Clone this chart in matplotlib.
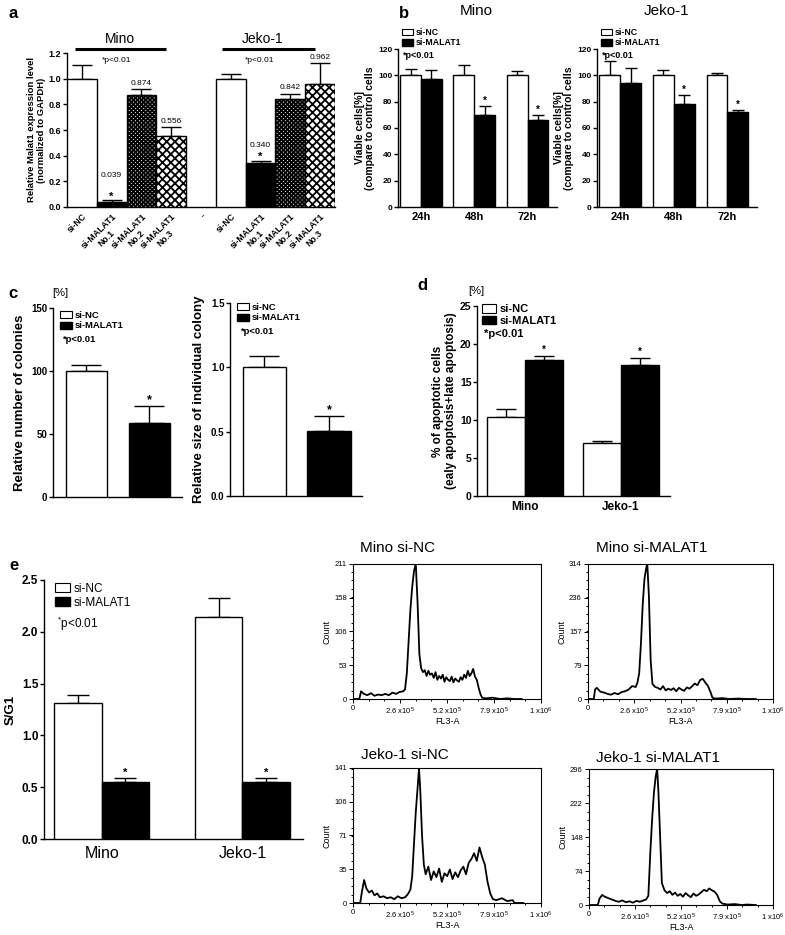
import numpy as np
import matplotlib
matplotlib.use('Agg')
import matplotlib.pyplot as plt
from matplotlib.patches import Patch
from matplotlib.ticker import AutoMinorLocator

plt.rcParams['font.family'] = ['Liberation Sans', 'DejaVu Sans']
plt.rcParams['hatch.linewidth'] = 1.3
plt.rcParams['mathtext.fontset'] = 'custom'
plt.rcParams['mathtext.rm'] = 'Liberation Sans'
plt.rcParams['mathtext.it'] = 'Liberation Sans:italic'
plt.rcParams['mathtext.bf'] = 'Liberation Sans:bold'

# ---- data ----
# a: Malat1 expression
a_labels = ['si-NC', 'si-MALAT1\nNo.1', 'si-MALAT1\nNo.2', 'si-MALAT1\nNo.3']
a_mino = [1.0, 0.039, 0.874, 0.556]
a_mino_err = [0.11, 0.012, 0.043, 0.064]
a_jeko = [1.0, 0.340, 0.842, 0.962]
a_jeko_err = [0.04, 0.022, 0.04, 0.158]
a_mino_star = [False, True, False, False]
a_jeko_star = [False, True, False, False]

# b: viability
b_times = ['24h', '48h', '72h']
b_mino_nc = [100, 100, 100]
b_mino_nc_err = [5, 8, 3]
b_mino_si = [97.5, 70, 66]
b_mino_si_err = [6.5, 7, 4]
b_jeko_nc = [100, 100, 100]
b_jeko_nc_err = [11, 4, 2]
b_jeko_si = [94.5, 78, 72.5]
b_jeko_si_err = [11, 7, 0.8]

# c: colonies
c_number = [100, 58.5]
c_number_err = [4.5, 14]
c_size = [1.0, 0.505]
c_size_err = [0.09, 0.12]

# d: apoptosis
cells = ['Mino', 'Jeko-1']
d_nc = [10.4, 7.0]
d_nc_err = [1.0, 0.3]
d_si = [17.9, 17.3]
d_si_err = [0.5, 0.9]

# e: S/G1
e_nc = [1.31, 2.14]
e_nc_err = [0.08, 0.19]
e_si = [0.555, 0.55]
e_si_err = [0.035, 0.04]

# flow histograms (FL3-A in 1e5 units, counts)
mnc_x = [0.0, 0.35, 0.45, 0.6, 0.8, 1.0, 1.2, 1.4, 1.6, 1.8, 2.0, 2.2, 2.4, 2.6, 2.8, 2.9, 3.0, 3.1, 3.2, 3.3,
         3.4, 3.5, 3.6, 3.7, 3.8, 3.9, 4.0, 4.1, 4.2, 4.3, 4.4, 4.5, 4.6, 4.7, 4.8, 4.9, 5.0, 5.1, 5.2, 5.3,
         5.4, 5.5, 5.6, 5.7, 5.8, 5.9, 6.0, 6.1, 6.2, 6.3, 6.4, 6.5, 6.6, 6.7, 6.8, 6.9, 7.0, 7.1, 7.2,
         7.4, 7.8, 8.2, 8.6, 9.0, 9.4]
mnc_y = [0, 0, 12, 8, 6, 9, 5, 7, 6, 8, 6, 10, 8, 11, 12, 15, 40, 90, 140, 175,
         200, 211, 150, 70, 48, 42, 45, 36, 44, 38, 40, 33, 42, 30, 36, 32, 38, 27, 34, 30,
         28, 35, 26, 32, 29, 27, 34, 30, 38, 33, 44, 36, 40, 47, 35, 30, 18, 8, 2,
         1, 2, 0, 1, 0, 0]
msi_x = [0.0, 0.33, 0.4, 0.5, 0.7, 0.9, 1.1, 1.3, 1.5, 1.7, 1.9, 2.1, 2.3, 2.5, 2.7, 2.8, 2.9, 3.0, 3.1, 3.2,
         3.3, 3.36, 3.45, 3.55, 3.65, 3.8, 3.95, 4.1, 4.25, 4.4, 4.55, 4.7, 4.85, 5.0, 5.15, 5.3, 5.45, 5.6,
         5.75, 5.9, 6.05, 6.2, 6.35, 6.5, 6.65, 6.8, 6.95, 7.05, 7.2, 7.6, 8.0, 8.5, 9.0, 9.5]
msi_y = [0, 0, 22, 26, 17, 15, 12, 10, 14, 11, 16, 18, 22, 30, 28, 38, 60, 130, 220, 280,
         305, 314, 240, 90, 35, 28, 26, 22, 30, 20, 24, 21, 25, 18, 26, 22, 19, 27,
         24, 30, 36, 32, 44, 47, 38, 30, 15, 3, 1, 2, 0, 1, 0, 0]
jnc_x = [0.0, 0.4, 0.5, 0.62, 0.75, 0.9, 1.05, 1.2, 1.35, 1.5, 1.7, 1.9, 2.1, 2.3, 2.5, 2.7, 2.9, 3.05, 3.2, 3.3,
         3.4, 3.5, 3.6, 3.68, 3.75, 3.85, 3.95, 4.05, 4.2, 4.35, 4.5, 4.65, 4.8, 4.95, 5.1, 5.25, 5.4, 5.55,
         5.7, 5.85, 6.0, 6.15, 6.3, 6.45, 6.6, 6.75, 6.9, 7.05, 7.2, 7.35, 7.5, 7.65, 7.8, 8.0, 8.3, 8.6,
         8.9, 9.0, 9.5]
jnc_y = [0, 0, 12, 24, 15, 11, 13, 8, 10, 6, 7, 5, 6, 4, 7, 5, 6, 9, 14, 28,
         62, 95, 120, 141, 118, 70, 40, 30, 38, 24, 33, 27, 36, 22, 31, 28, 35, 25,
         32, 27, 34, 38, 30, 42, 46, 52, 44, 58, 48, 40, 22, 10, 4, 3, 5, 2,
         3, 0, 0]
jsi_x = [0.0, 0.5, 0.6, 0.75, 0.9, 1.1, 1.3, 1.5, 1.7, 1.9, 2.1, 2.3, 2.5, 2.7, 2.9, 3.1, 3.25, 3.38, 3.5, 3.6,
         3.7, 3.8, 3.88, 3.95, 4.05, 4.15, 4.3, 4.45, 4.6, 4.75, 4.9, 5.05, 5.2, 5.35, 5.5, 5.65, 5.8, 5.95,
         6.1, 6.25, 6.4, 6.55, 6.7, 6.85, 7.0, 7.15, 7.3, 7.45, 7.6, 7.9, 8.3, 8.7, 9.0, 9.5]
jsi_y = [0, 0, 14, 22, 18, 15, 12, 9, 7, 10, 6, 8, 5, 9, 7, 10, 12, 20, 120, 190,
         245, 280, 296, 250, 150, 48, 32, 26, 30, 22, 27, 20, 24, 18, 26, 21, 17, 25,
         20, 23, 28, 33, 30, 36, 32, 29, 22, 8, 3, 1, 2, 0, 1, 0]
hist_xticks = [0, 2.62, 5.24, 7.86, 10.48]
hist_xlabels = ['0', '2.6 x10$^5$', '5.2 x10$^5$', '7.9 x10$^5$', '1 x10$^6$']

W, H = 785, 935
fig = plt.figure(figsize=(W / 100, H / 100), dpi=100)


def px_axes(l, t, r, b):
    return fig.add_axes([l / W, 1 - b / H, (r - l) / W, (b - t) / H])


def ftext(x, y, s, **kw):
    fig.text(x / W, 1 - y / H, s, **kw)


def prism(ax, ticks, fs, fmt, bold=True):
    for s in ['top', 'right']:
        ax.spines[s].set_visible(False)
    for s in ['left', 'bottom']:
        ax.spines[s].set_linewidth(1.0)
    ax.set_yticks(ticks, [fmt.format(t) for t in ticks], fontsize=fs,
                  fontweight='bold' if bold else 'normal')
    ax.tick_params(axis='y', direction='out', length=3, width=1, pad=1)
    ax.tick_params(axis='x', length=0)


def bars(ax, x, vals, errs, color, width, cap, hatch=None):
    ax.bar(x, vals, width, color=color, edgecolor='black', linewidth=1, hatch=hatch, zorder=3)
    ax.errorbar(x, vals, yerr=[np.zeros(len(vals)), errs], fmt='none', ecolor='black',
                elinewidth=1, capsize=cap, capthick=1, zorder=2)


def stars(ax, x, vals, errs, flags, pad, fs=7):
    for xi, v, e, f in zip(x, vals, errs, flags):
        if f:
            ax.text(xi, v + e + pad, '*', ha='center', va='center', fontsize=fs, fontweight='bold')


def legend_at(ax, x, y, fs, weight='bold'):
    handles = [Patch(fc='white', ec='black', lw=0.8), Patch(fc='black', ec='black')]
    ax.legend(handles, ['si-NC', 'si-MALAT1'], loc='upper left',
              bbox_to_anchor=(x / W, 1 - y / H), bbox_transform=fig.transFigure,
              frameon=False, prop={'size': fs, 'weight': weight}, handlelength=1.3,
              handleheight=0.8, handletextpad=0.3, labelspacing=0.15, borderpad=0,
              borderaxespad=0)


# ---------------- panel a ----------------
ax = px_axes(67, 53, 335, 207)
a_styles = [('white', None), ('black', None), ('white', 'xxxxxxxx'), ('white', 'xxxx')]
mino_x = np.arange(4)
jeko_x = mino_x + 5
for xs, vals, errs, st, gaps in [(mino_x, a_mino, a_mino_err, a_mino_star, [0.02, 0.17, 0.02, 0.02]),
                                 (jeko_x, a_jeko, a_jeko_err, a_jeko_star, [0.02, 0.09, 0.02, 0.02])]:
    for i in range(4):
        bars(ax, [xs[i]], [vals[i]], [errs[i]], a_styles[i][0], 1.0, 7, a_styles[i][1])
        if i > 0:
            ax.text(xs[i], vals[i] + errs[i] + gaps[i], '{:.3f}'.format(vals[i]), ha='center',
                    va='bottom', fontsize=6)
    stars(ax, xs, vals, errs, st, 0.025, fs=8)
ax.set_xlim(-0.5, 8.5)
ax.set_ylim(0, 1.2)
prism(ax, [0, 0.2, 0.4, 0.6, 0.8, 1.0, 1.2], 6.5, '{:.1f}')
ax.set_xticks(list(mino_x) + [4] + list(jeko_x), a_labels + ['-'] + a_labels, rotation=45,
              ha='right', rotation_mode='anchor', fontsize=6.3, fontweight='bold',
              multialignment='center')
ax.set_ylabel('Relative Malat1 expression level\n(normalized to GAPDH)', fontsize=6.8,
              fontweight='bold', labelpad=2, linespacing=1.1)
for x0, x1, name, xc in [(-0.23, 2.82, 'Mino', 1.28), (4.7, 7.82, 'Jeko-1', 6.08)]:
    ax.plot([x0, x1], [1.231, 1.231], color='black', lw=2.2, clip_on=False, solid_capstyle='butt')
    ax.text(xc, 1.31, name, ha='center', va='center', fontsize=10)
    ax.text(xc - 0.1, 1.145, '*p<0.01', ha='center', va='center', fontsize=6)
ftext(13, 13, 'a', fontsize=12, fontweight='bold', va='center', ha='center')

# ---------------- panel b ----------------
ftext(404, 13, 'b', fontsize=12, fontweight='bold', va='center', ha='center')
tx = np.arange(3)
bw = 0.39
for (l, r), name, tcx, nc, nce, si, sie in [((398, 557), 'Mino', 476, b_mino_nc, b_mino_nc_err, b_mino_si, b_mino_si_err),
                                          ((597, 757), 'Jeko-1', 667, b_jeko_nc, b_jeko_nc_err, b_jeko_si, b_jeko_si_err)]:
    ax = px_axes(l, 49, r, 207)
    bars(ax, tx - bw / 2, nc, nce, 'white', bw, 4.5)
    bars(ax, tx + bw / 2, si, sie, 'black', bw, 4.5)
    stars(ax, tx + bw / 2, si, sie, [False, True, True], 4)
    ax.set_xlim(-0.43, 2.55)
    ax.set_ylim(0, 120)
    prism(ax, [0, 20, 40, 60, 80, 100, 120], 6, '{:d}')
    ax.set_xticks(tx, b_times, fontsize=8, fontweight='bold')
    ax.set_ylabel('Viable cells[%]\n(compare to control cells', fontsize=7.5, fontweight='bold',
                  labelpad=2, linespacing=1.1)
    ftext(tcx, 11, name, fontsize=11, ha='center', va='center')
    legend_at(ax, l + 4, 28, 6.3)
    ftext(l + 5, 56, '*p<0.01', fontsize=6.5, fontweight='bold', va='center')

# ---------------- panel c ----------------
ftext(13, 293, 'c', fontsize=12, fontweight='bold', va='center', ha='center')
ftext(52, 293, '[%]', fontsize=8, va='center')
gx = np.arange(2)
ax = px_axes(53, 308, 182, 497)
bars(ax, gx, c_number, c_number_err, ['white', 'black'], 0.66, 11)
stars(ax, gx, c_number, c_number_err, [False, True], 4, fs=9)
ax.set_xlim(-0.53, 1.52)
ax.set_ylim(0, 150)
prism(ax, [0, 50, 100, 150], 7, '{:d}')
ax.set_xticks([])
ax.set_ylabel('Relative number of colonies', fontsize=9.5, fontweight='bold', labelpad=4)
legend_at(ax, 60, 311, 6.8)
ftext(62, 339, '*p<0.01', fontsize=6.8, fontweight='bold', va='center')

ax = px_axes(230, 303, 362, 496)
bars(ax, gx, c_size, c_size_err, ['white', 'black'], 0.67, 11)
stars(ax, gx, c_size, c_size_err, [False, True], 0.04, fs=9)
ax.set_xlim(-0.53, 1.51)
ax.set_ylim(0, 1.5)
prism(ax, [0, 0.5, 1.0, 1.5], 7, '{:.1f}')
ax.set_xticks([])
ax.set_ylabel('Relative size of individual colony', fontsize=9.5, fontweight='bold', labelpad=4)
legend_at(ax, 237, 303, 6.8)
ftext(240, 332, '*p<0.01', fontsize=6.8, fontweight='bold', va='center')

# ---------------- panel d ----------------
ftext(422, 285, 'd', fontsize=12, fontweight='bold', va='center', ha='center')
ftext(468, 291, '[%]', fontsize=8, va='center')
ax = px_axes(477, 306, 670, 496)
bars(ax, gx - 0.2, d_nc, d_nc_err, 'white', 0.4, 7)
bars(ax, gx + 0.2, d_si, d_si_err, 'black', 0.4, 7)
stars(ax, gx + 0.2, d_si, d_si_err, [True, True], 0.8, fs=7)
ax.set_xlim(-0.5, 1.51)
ax.set_ylim(0, 25)
prism(ax, [0, 5, 10, 15, 20, 25], 7.5, '{:d}')
ax.set_xticks(gx, cells, fontsize=8.5, fontweight='bold')
ax.set_ylabel('% of apoptotic cells\n(ealy apoptosis+late apoptosis)', fontsize=8.5,
              fontweight='bold', labelpad=2, linespacing=1.1)
legend_at(ax, 482, 304, 8)
ftext(484, 334, '*p<0.01', fontsize=8, fontweight='bold', va='center')

# ---------------- panel e ----------------
ftext(14, 565, 'e', fontsize=12, fontweight='bold', va='center', ha='center')
ax = px_axes(44, 580, 303, 839)
ew = 0.337
bars(ax, gx - ew / 2, e_nc, e_nc_err, 'white', ew, 8)
bars(ax, gx + ew / 2, e_si, e_si_err, 'black', ew, 8)
stars(ax, gx + ew / 2, e_si, e_si_err, [True, True], 0.05, fs=8)
ax.set_xlim(-0.41, 1.43)
ax.set_ylim(0, 2.5)
prism(ax, [0, 0.5, 1.0, 1.5, 2.0, 2.5], 8.5, '{:.1f}')
ax.set_xticks(gx, cells, fontsize=11.5)
ax.tick_params(axis='x', pad=5)
ax.set_ylabel('S/G1', fontsize=9.5, fontweight='bold', labelpad=4)
legend_at(ax, 55, 583, 8.5, weight='normal')
ftext(57, 624, r'$^{*}$p<0.01', fontsize=8.5, va='center')

# ---------------- flow histograms ----------------
def hist_panel(l, t, r, b, x, y, yt, title, tx, ty):
    ax = px_axes(l, t, r, b)
    ax.plot(x, y, color='black', lw=1.3)
    ax.set_xlim(0, 10.48)
    ax.set_ylim(0, yt[-1])
    ax.set_xticks(hist_xticks, hist_xlabels, fontsize=5.5)
    ax.set_yticks(yt, [str(v) for v in yt], fontsize=5.5)
    ax.xaxis.set_minor_locator(AutoMinorLocator(3))
    ax.yaxis.set_minor_locator(AutoMinorLocator(4))
    ax.tick_params(which='both', direction='out', width=0.7, pad=1.5)
    ax.tick_params(which='major', length=3)
    ax.tick_params(which='minor', length=1.5)
    for s in ax.spines.values():
        s.set_linewidth(0.8)
    ax.set_xlabel('FL3-A', fontsize=6.5, labelpad=0)
    ax.set_ylabel('Count', fontsize=6.5, labelpad=2)
    ftext(tx, ty, title, fontsize=11, va='center')


hist_panel(353, 564, 541, 699, mnc_x, mnc_y, [0, 53, 106, 158, 211], 'Mino si-NC', 360, 548)
hist_panel(588, 564, 773, 699, msi_x, msi_y, [0, 79, 157, 236, 314], 'Mino si-MALAT1', 596, 548)
hist_panel(353, 768, 541, 903, jnc_x, jnc_y, [0, 35, 71, 106, 141], 'Jeko-1 si-NC', 361, 755)
hist_panel(589, 769, 773, 905, jsi_x, jsi_y, [0, 74, 148, 222, 296], 'Jeko-1 si-MALAT1', 596, 758)

fig.savefig('out.png', dpi=100)
